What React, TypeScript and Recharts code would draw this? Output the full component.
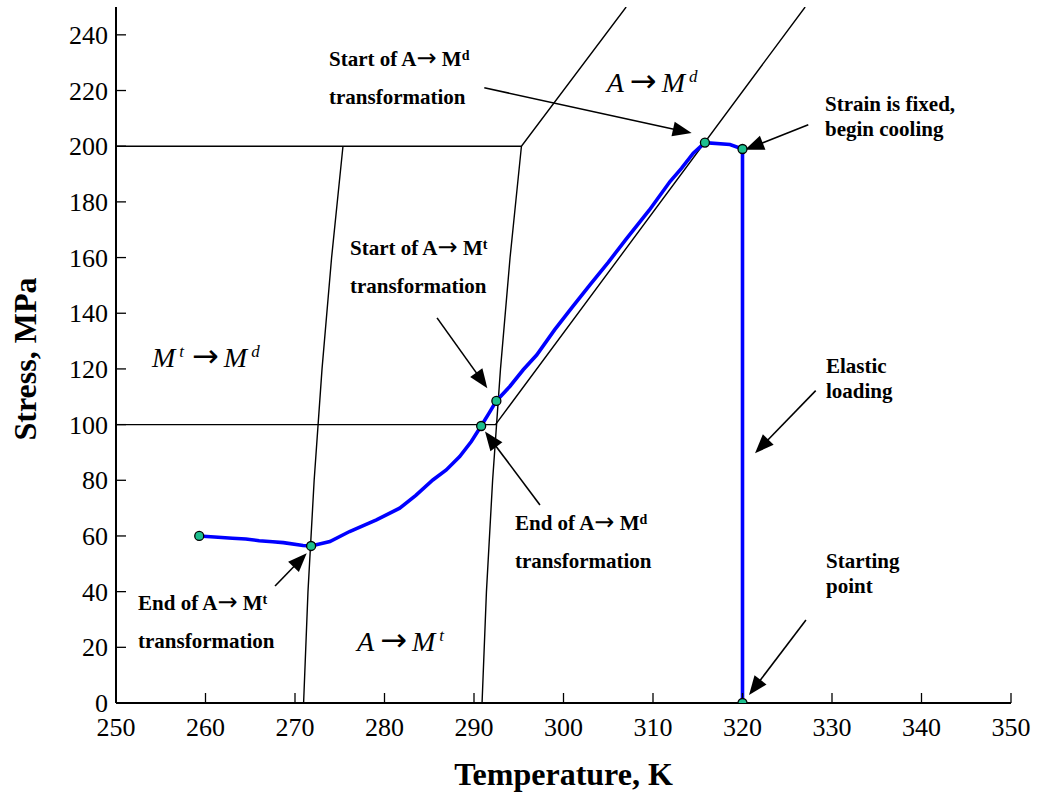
import React from 'react';
import { ComposedChart, Line, Scatter, XAxis, YAxis, ReferenceLine, ReferenceDot } from 'recharts';

const FONT = '"Liberation Serif", "Times New Roman", Times, serif';
const ARROW_FONT = '"DejaVu Sans", sans-serif';

const xTicks = [250, 260, 270, 280, 290, 300, 310, 320, 330, 340, 350];
const yTicks = [0, 20, 40, 60, 80, 100, 120, 140, 160, 180, 200, 220, 240];

// blue stress-temperature path
const stressPath = [
  { x: 259.3, y: 60.0 }, { x: 261.0, y: 59.6 }, { x: 263.0, y: 59.2 }, { x: 264.5, y: 58.9 },
  { x: 266.0, y: 58.3 }, { x: 267.5, y: 57.9 }, { x: 268.7, y: 57.6 }, { x: 270.9, y: 56.6 },
  { x: 271.8, y: 56.4 }, { x: 273.9, y: 58.0 }, { x: 276.1, y: 61.6 }, { x: 279.1, y: 65.8 },
  { x: 281.7, y: 70.0 }, { x: 283.5, y: 74.6 }, { x: 285.4, y: 80.1 }, { x: 286.9, y: 83.7 },
  { x: 288.4, y: 88.5 }, { x: 289.7, y: 93.9 }, { x: 290.8, y: 99.5 }, { x: 291.7, y: 104.2 },
  { x: 292.5, y: 108.5 }, { x: 294.0, y: 113.7 }, { x: 295.5, y: 119.7 }, { x: 297.0, y: 125.0 },
  { x: 299.0, y: 134.0 }, { x: 301.0, y: 142.3 }, { x: 303.0, y: 150.4 }, { x: 305.0, y: 158.3 },
  { x: 307.0, y: 166.6 }, { x: 309.6, y: 177.1 }, { x: 311.9, y: 187.3 }, { x: 313.2, y: 192.1 },
  { x: 314.5, y: 197.5 }, { x: 315.8, y: 201.3 }, { x: 318.6, y: 200.6 }, { x: 320.0, y: 199.0 },
  { x: 320.0, y: 0 },
];

const keyPoints = [
  { x: 259.3, y: 60.0 }, { x: 271.8, y: 56.4 }, { x: 290.8, y: 99.5 },
  { x: 292.5, y: 108.5 }, { x: 315.8, y: 201.3 }, { x: 320.0, y: 199.0 }, { x: 320.0, y: 0 },
];

// phase boundary lines
const upperBoundary = [{ x: 250, y: 200 }, { x: 295.3, y: 200 }, { x: 307.0, y: 250 }];
const middleBoundary = [{ x: 250, y: 100 }, { x: 292.4, y: 100 }, { x: 327.0, y: 250 }];
const leftPhaseLine = [
  { x: 270.96, y: 0 }, { x: 271.45, y: 40 }, { x: 272.14, y: 80 },
  { x: 273.02, y: 120 }, { x: 274.09, y: 160 }, { x: 275.36, y: 200 },
];
const rightPhaseLine = [
  { x: 290.9, y: 0 }, { x: 291.39, y: 40 }, { x: 292.08, y: 80 },
  { x: 292.96, y: 120 }, { x: 294.03, y: 160 }, { x: 295.3, y: 200 },
];

// annotation anchors (text start, first baseline) in data units
const noteAnchors = [
  { id: 'startMd', x: 273.8, y: 228.9 },
  { id: 'regionAMd', x: 304.83, y: 219.5 },
  { id: 'strainFixed', x: 329.22, y: 212.8 },
  { id: 'elastic', x: 329.33, y: 118.5 },
  { id: 'starting', x: 329.33, y: 48.5 },
  { id: 'startMt', x: 276.15, y: 161.0 },
  { id: 'regionMtMd', x: 254.02, y: 120.7 },
  { id: 'endMd', x: 294.58, y: 62.2 },
  { id: 'endMt', x: 252.46, y: 33.4 },
  { id: 'regionAMt', x: 276.93, y: 18.7 },
];

// arrows: tail -> tip, in data units
const arrowTails = [
  { x: 291.15, y: 220.98 }, { x: 327.35, y: 207.69 }, { x: 328.18, y: 112.22 },
  { x: 327.09, y: 29.82 }, { x: 285.87, y: 138.34 }, { x: 297.37, y: 71.15 }, { x: 267.77, y: 42.04 },
];
const arrowTips = [
  { x: 314.32, y: 204.71 }, { x: 320.28, y: 198.71 }, { x: 321.4, y: 89.72 },
  { x: 320.73, y: 2.87 }, { x: 291.49, y: 113.08 }, { x: 291.23, y: 97.48 }, { x: 271.31, y: 53.79 },
];

const boldText = { fontFamily: FONT, fontWeight: 700, fontSize: 21, fill: '#000' } as const;
const mathText = { fontFamily: FONT, fontStyle: 'italic', fontWeight: 400, fontSize: 28, fill: '#000' } as const;

function transformNote(x: number, y: number, head: string, sup: string) {
  return (
    <text x={x} y={y} {...boldText}>
      <tspan>{head}</tspan>
      <tspan fontWeight={400} fontFamily={ARROW_FONT} fontSize={24}>→</tspan>
      <tspan> M</tspan>
      <tspan dy={-6} fontSize={14}>{sup}</tspan>
      <tspan x={x} dy={6 + 38}>transformation</tspan>
    </text>
  );
}

function twoLine(x: number, y: number, a: string, b: string) {
  return (
    <text x={x} y={y} {...boldText}>
      <tspan>{a}</tspan>
      <tspan x={x} dy={25}>{b}</tspan>
    </text>
  );
}

function mathArrow() {
  return (
    <tspan fontStyle="normal" fontFamily={ARROW_FONT} fontSize={32} dx={6}>→</tspan>
  );
}

function renderNote(id: string, x: number, y: number) {
  switch (id) {
    case 'startMd': return transformNote(x, y, 'Start of A', 'd');
    case 'startMt': return transformNote(x, y, 'Start of A', 't');
    case 'endMd': return transformNote(x, y, 'End of A', 'd');
    case 'endMt': return transformNote(x, y, 'End of A', 't');
    case 'strainFixed': return twoLine(x, y, 'Strain is fixed,', 'begin cooling');
    case 'elastic': return twoLine(x, y, 'Elastic', 'loading');
    case 'starting': return twoLine(x, y, 'Starting', 'point');
    case 'regionAMd':
      return (
        <text x={x} y={y} {...mathText}>
          <tspan>A</tspan>{mathArrow()}<tspan dx={5}>M</tspan>
          <tspan dx={4} dy={-10} fontSize={17}>d</tspan>
        </text>
      );
    case 'regionAMt':
      return (
        <text x={x} y={y} {...mathText}>
          <tspan>A</tspan>{mathArrow()}<tspan dx={5}>M</tspan>
          <tspan dx={4} dy={-10} fontSize={17}>t</tspan>
        </text>
      );
    case 'regionMtMd':
      return (
        <text x={x} y={y} {...mathText}>
          <tspan>M</tspan>
          <tspan dx={4} dy={-10} fontSize={17}>t</tspan>
          <tspan dy={10} dx={8} fontStyle="normal" fontFamily={ARROW_FONT} fontSize={32}>→</tspan>
          <tspan dx={5}>M</tspan>
          <tspan dx={4} dy={-10} fontSize={17}>d</tspan>
        </text>
      );
    default: return null;
  }
}

function ArrowShape(p: any) {
  const { x1, y1, x2, y2 } = p;
  const dx = x2 - x1;
  const dy = y2 - y1;
  const len = Math.sqrt(dx * dx + dy * dy) || 1;
  const ux = dx / len;
  const uy = dy / len;
  const head = 19;
  const half = 7.5;
  const bx = x2 - ux * head;
  const by = y2 - uy * head;
  const pts = `${x2},${y2} ${bx - uy * half},${by + ux * half} ${bx + uy * half},${by - ux * half}`;
  return (
    <g>
      <line x1={x1} y1={y1} x2={bx + ux * 2} y2={by + uy * 2} stroke="#000" strokeWidth={1.6} />
      <polygon points={pts} fill="#000" />
    </g>
  );
}

function XTick(p: any) {
  return (
    <text x={p.x} y={p.y + 18} textAnchor="middle" fontFamily={FONT} fontSize={26} fill="#000">
      {p.payload.value}
    </text>
  );
}

function YTick(p: any) {
  return (
    <text x={p.x} y={p.y + 9} textAnchor="end" fontFamily={FONT} fontSize={26} fill="#000">
      {p.payload.value}
    </text>
  );
}

export default function App() {
  return (
    <div style={{ position: 'absolute', left: 0, top: 0, width: 1037, height: 796, background: '#fff', fontFamily: FONT }}>
      <ComposedChart width={1037} height={796} margin={{ top: 7, right: 26, bottom: 0, left: 0 }}>
        <XAxis
          xAxisId={0}
          dataKey="x"
          type="number"
          domain={[250, 350]}
          allowDataOverflow
          ticks={xTicks}
          interval={0}
          height={93}
          tickSize={-10}
          tickMargin={25}
          tick={<XTick />}
          axisLine={{ stroke: '#000', strokeWidth: 2 }}
          tickLine={{ stroke: '#000', strokeWidth: 1.3 }}
          label={{
            value: 'Temperature, K',
            position: 'insideBottom',
            offset: 11,
            style: { fontFamily: FONT, fontWeight: 700, fontSize: 32, fill: '#000' },
          }}
        />
        <XAxis
          xAxisId="top"
          orientation="top"
          dataKey="x"
          type="number"
          domain={[250, 350]}
          allowDataOverflow
          ticks={xTicks}
          interval={0}
          height={0}
          tickSize={-10}
          tickFormatter={() => ''}
          axisLine={{ stroke: '#000', strokeWidth: 2 }}
          tickLine={{ stroke: '#000', strokeWidth: 1.3 }}
        />
        <YAxis
          yAxisId={0}
          type="number"
          domain={[0, 250]}
          allowDataOverflow
          ticks={yTicks}
          interval={0}
          width={116}
          tickSize={-10}
          tickMargin={18}
          tick={<YTick />}
          axisLine={{ stroke: '#000', strokeWidth: 2 }}
          tickLine={{ stroke: '#000', strokeWidth: 1.3 }}
          label={{
            value: 'Stress, MPa',
            content: () => (
              <text
                x={25}
                y={359}
                transform="rotate(-90 25 359)"
                textAnchor="middle"
                dominantBaseline="central"
                style={{ fontFamily: FONT, fontWeight: 700, fontSize: 32, fill: '#000' }}
              >
                Stress, MPa
              </text>
            ),
          }}
        />
        <YAxis
          yAxisId="r"
          orientation="right"
          type="number"
          domain={[0, 250]}
          allowDataOverflow
          ticks={yTicks}
          interval={0}
          width={0}
          tickSize={-10}
          tickFormatter={() => ''}
          axisLine={{ stroke: '#000', strokeWidth: 2 }}
          tickLine={{ stroke: '#000', strokeWidth: 1.3 }}
        />

        <Line data={upperBoundary} dataKey="y" type="linear" stroke="#000" strokeWidth={1.4} dot={false} activeDot={false} isAnimationActive={false} />
        <Line data={middleBoundary} dataKey="y" type="linear" stroke="#000" strokeWidth={1.4} dot={false} activeDot={false} isAnimationActive={false} />
        <Line data={leftPhaseLine} dataKey="y" type="linear" stroke="#000" strokeWidth={1.4} dot={false} activeDot={false} isAnimationActive={false} />
        <Line data={rightPhaseLine} dataKey="y" type="linear" stroke="#000" strokeWidth={1.4} dot={false} activeDot={false} isAnimationActive={false} />
        <Line data={stressPath} dataKey="y" type="linear" stroke="#0000ff" strokeWidth={3.6} dot={false} activeDot={false} isAnimationActive={false} />
        <Scatter
          data={keyPoints}
          dataKey="y"
          isAnimationActive={false}
          shape={(p: any) => <circle cx={p.cx} cy={p.cy} r={4.5} fill="#1dbf8e" stroke="#000" strokeWidth={1.3} />}
        />

        {arrowTails.map((t, i) => (
          <ReferenceLine
            key={'a' + i}
            segment={[t, arrowTips[i]]}
            ifOverflow="visible"
            shape={(p: any) => <ArrowShape {...p} />}
          />
        ))}
        {noteAnchors.map((n) => (
          <ReferenceDot
            key={n.id}
            x={n.x}
            y={n.y}
            r={1}
            ifOverflow="visible"
            shape={(p: any) => renderNote(n.id, p.cx, p.cy) as any}
          />
        ))}
      </ComposedChart>
    </div>
  );
}
